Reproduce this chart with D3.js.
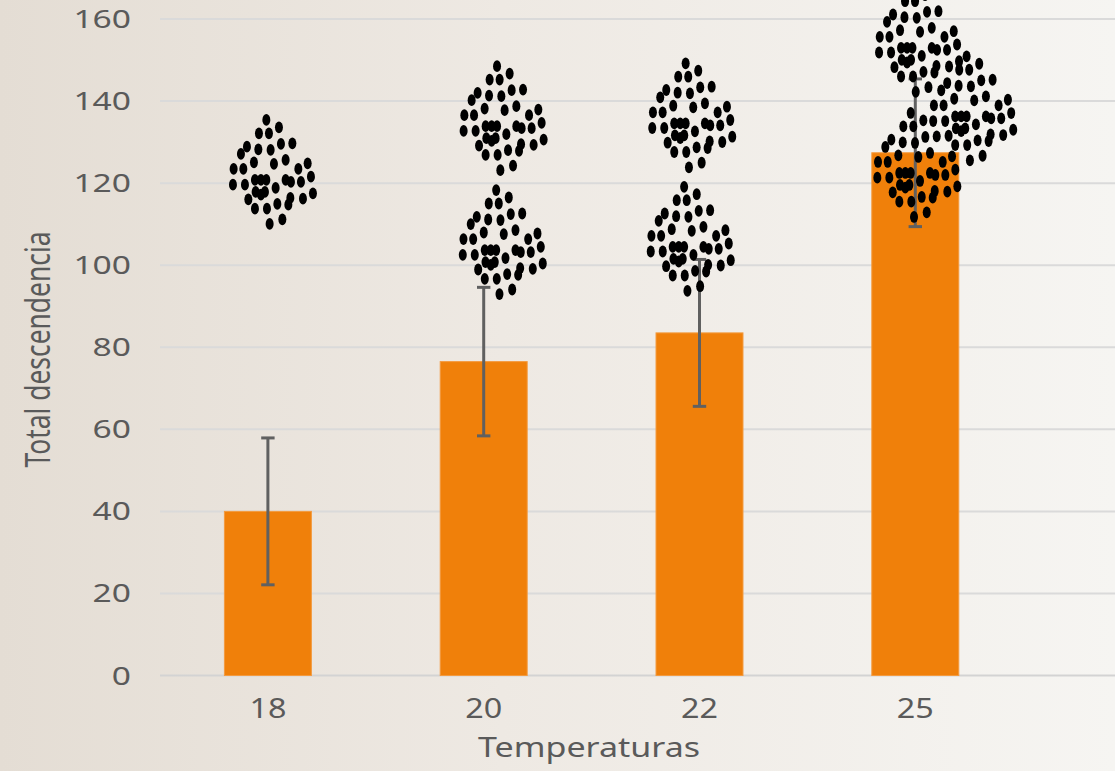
<!DOCTYPE html>
<html>
<head>
<meta charset="utf-8">
<script src="https://cdn.jsdelivr.net/npm/d3@7"></script>
<style>
  html, body { margin: 0; padding: 0; overflow: hidden; background: #eeeae4; }
  svg { display: block; }
</style>
</head>
<body>
<svg id="chart" width="1115" height="771"></svg>
<script>
// ---- data ----
const temperatures = ["18", "20", "22", "25"];
const meanOffspring = [40, 76.5, 83.5, 127.4];
const errOffspring = [17.9, 18.1, 17.9, 18.0];
const yTickValues = [0, 20, 40, 60, 80, 100, 120, 140, 160];
const xTitle = "Temperaturas";
const yTitle = "Total descendencia";

// egg clutches drawn over the bars: temperature, level, sideways shift (in category steps)
const clutchTemps  = ["18", "20", "20", "22", "22", "25", "25", "25"];
const clutchLevels = [122.8, 135.9, 105.7, 136.6, 106.5, 155.0, 138.3, 124.5];
const clutchShift  = [0.022, 0.091, 0.087, -0.035, -0.042, 0.016, 0.267, 0.008];

// shape of one clutch: egg offsets from the clutch centre
const clutchShape = [
  [-6.3,-51.7],[6.3,-44.3],[-13.7,-38.3],[-3.7,-38.3],[-25.7,-25],[-14.3,-22.3],[-2,-21.7],
  [8.3,-27.7],[19.7,-28.3],[-31.7,-17.7],[-18.7,-9.3],[1.3,-7.7],[13,-11.7],[-39,-2.7],
  [-29.3,-2.7],[25.7,-2.7],[35,-8.3],[-39.7,13],[-27.7,13],[-17.7,8.3],[-11.7,8.3],
  [-6.3,8.3],[13,8.3],[18.3,10.3],[28.3,10.3],[38.3,5],[3,16.3],[-17,20.3],[-11.7,23],
  [-7.7,20.3],[17.7,26.3],[30.3,27],[40.3,21.7],[-24.3,27.7],[-17.7,37],[-5.7,37],
  [4.7,32.3],[15.7,33],[-3,52.3],[9.7,47.7]
];

// ---- layout ----
const W = 1115, H = 771;
const plotLeft = 160, plotRight = 1023.2, gridRight = 1115;
const svg = d3.select("#chart");
const font = "'Noto Sans', 'DejaVu Sans', sans-serif";
const textColor = "#5a5a5a";

// background wash
const defs = svg.append("defs");
const grad = defs.append("linearGradient").attr("id", "bg").attr("x1", "0").attr("x2", "1").attr("y1", "0").attr("y2", "0");
grad.append("stop").attr("offset", "0").attr("stop-color", "#e4ddd4");
grad.append("stop").attr("offset", "0.45").attr("stop-color", "#eee9e3");
grad.append("stop").attr("offset", "1").attr("stop-color", "#f6f5f2");
svg.append("rect").attr("width", W).attr("height", H).attr("fill", "url(#bg)");

const x = d3.scaleBand().domain(temperatures).range([plotLeft, plotRight])
  .paddingInner(0.597).paddingOuter(0.2985);
const step = x.step();
const cx = t => x(t) + x.bandwidth() / 2;
const y = d3.scaleLinear().domain([0, 160]).range([675.5, 19]);

// gridlines
svg.append("g").selectAll("line").data(yTickValues).join("line")
  .attr("x1", plotLeft).attr("x2", gridRight)
  .attr("y1", d => y(d)).attr("y2", d => y(d))
  .attr("stroke", d => d === 0 ? "#d3d3d3" : "#dadada")
  .attr("stroke-width", 2);

// y tick labels
const yDigitW = 19.2;
svg.append("g").selectAll("text").data(yTickValues).join("text")
  .attr("x", 131).attr("y", d => y(d) + 9)
  .attr("text-anchor", "end")
  .attr("font-family", font).attr("font-size", 25).attr("fill", textColor)
  .attr("textLength", d => String(d).length * yDigitW)
  .attr("lengthAdjust", "spacingAndGlyphs")
  .text(d => d);

// x tick labels
svg.append("g").selectAll("text").data(temperatures).join("text")
  .attr("x", d => cx(d)).attr("y", 718)
  .attr("text-anchor", "middle")
  .attr("font-family", font).attr("font-size", 28).attr("fill", textColor)
  .attr("textLength", d => d.length * 18.5)
  .attr("lengthAdjust", "spacingAndGlyphs")
  .text(d => d);

// axis titles
svg.append("text")
  .attr("x", 589).attr("y", 757)
  .attr("text-anchor", "middle")
  .attr("font-family", font).attr("font-size", 28).attr("fill", textColor)
  .attr("textLength", 222).attr("lengthAdjust", "spacingAndGlyphs")
  .text(xTitle);

svg.append("text")
  .attr("transform", "translate(50,349.5) rotate(-90)")
  .attr("text-anchor", "middle")
  .attr("font-family", font).attr("font-size", 35).attr("fill", textColor)
  .attr("textLength", 236).attr("lengthAdjust", "spacingAndGlyphs")
  .text(yTitle);

// bars
const rows = temperatures.map((t, i) => ({ t, mean: meanOffspring[i], err: errOffspring[i] }));
svg.append("g").selectAll("rect").data(rows).join("rect")
  .attr("x", d => x(d.t)).attr("width", x.bandwidth())
  .attr("y", d => y(d.mean)).attr("height", d => y(0) - y(d.mean))
  .attr("fill", "#f0800a")
  .attr("stroke", "#f39a3f").attr("stroke-width", 1);

// error bars
const eb = svg.append("g").attr("stroke", "#606060").attr("stroke-width", 3);
eb.selectAll("line.v").data(rows).join("line").attr("class", "v")
  .attr("x1", d => cx(d.t)).attr("x2", d => cx(d.t))
  .attr("y1", d => y(d.mean + d.err)).attr("y2", d => y(d.mean - d.err));
eb.selectAll("line.top").data(rows).join("line").attr("class", "top")
  .attr("x1", d => cx(d.t) - 6.7).attr("x2", d => cx(d.t) + 6.7)
  .attr("y1", d => y(d.mean + d.err)).attr("y2", d => y(d.mean + d.err));
eb.selectAll("line.bot").data(rows).join("line").attr("class", "bot")
  .attr("x1", d => cx(d.t) - 6.7).attr("x2", d => cx(d.t) + 6.7)
  .attr("y1", d => y(d.mean - d.err)).attr("y2", d => y(d.mean - d.err));

// egg clutches
const clutches = clutchTemps.map((t, i) => ({ t, level: clutchLevels[i], shift: clutchShift[i] }));
const cg = svg.append("g").selectAll("g").data(clutches).join("g")
  .attr("transform", d => `translate(${cx(d.t) + d.shift * step},${y(d.level)})`);
cg.selectAll("ellipse").data(clutchShape).join("ellipse")
  .attr("cx", d => d[0]).attr("cy", d => d[1])
  .attr("rx", 4.0).attr("ry", 5.9)
  .attr("fill", "#000");
</script>
</body>
</html>
